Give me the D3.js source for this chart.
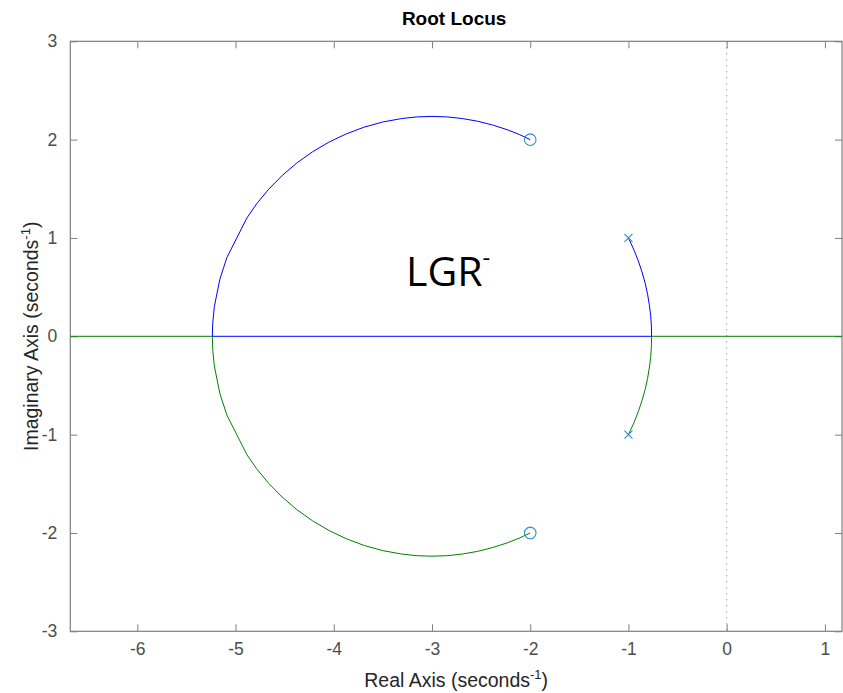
<!DOCTYPE html>
<html>
<head>
<meta charset="utf-8">
<script src="https://cdn.jsdelivr.net/npm/d3@7"></script>
<style>
  html, body { margin: 0; padding: 0; background: #fff; }
  svg { display: block; }
</style>
</head>
<body>
<svg id="chart" width="843" height="693"></svg>
<script>
// Axis limits and ticks
const xLimits = [-6.682, 1.174];
const yLimits = [-3, 3];
const xTickValues = [-6, -5, -4, -3, -2, -1, 0, 1];
const yTickValues = [-3, -2, -1, 0, 1, 2, 3];

// Open-loop poles and zeros
const poles = [[-1, 1], [-1, -1]];
const zeros = [[-2, 2], [-2, -2]];

// Branch 1 (blue): pole -1+j down to the real-axis crossing
const blueRightArc = [
  [-1.000, 1.000], [-0.942, 0.874], [-0.899, 0.765], [-0.862, 0.654],
  [-0.830, 0.541], [-0.805, 0.427], [-0.786, 0.311], [-0.774, 0.214],
  [-0.767, 0.117], [-0.764, 0.000]
];
// Branch 1 (blue): along the real axis between the two crossings
const blueRealAxis = [[-0.764, 0], [-5.236, 0]];
// Branch 1 (blue): from the left crossing up to the zero -2+2j
const blueLeftArc = [
  [-5.236, 0.000], [-5.232, 0.133], [-5.216, 0.300], [-5.160, 0.579],
  [-5.088, 0.801], [-4.884, 1.204], [-4.786, 1.346], [-4.662, 1.496],
  [-4.525, 1.635], [-4.377, 1.762], [-4.218, 1.875], [-4.050, 1.974],
  [-3.874, 2.058], [-3.691, 2.127], [-3.503, 2.179], [-3.311, 2.214],
  [-3.156, 2.231], [-3.000, 2.236], [-2.844, 2.231], [-2.689, 2.214],
  [-2.535, 2.187], [-2.384, 2.149], [-2.235, 2.101], [-2.108, 2.051],
  [-2.000, 2.000]
];

// Branch 2 (green): pole -1-j up to the real-axis crossing, then out to the right
const greenRightArc = [
  [-1.000, -1.000], [-0.942, -0.874], [-0.899, -0.765], [-0.862, -0.654],
  [-0.830, -0.541], [-0.805, -0.427], [-0.786, -0.311], [-0.774, -0.214],
  [-0.767, -0.117], [-0.764, 0.000]
];
const greenRightReal = [[-0.764, 0], [1.174, 0]];
// Branch 2 (green): in from the left along the real axis, then down to the zero -2-2j
const greenLeftReal = [[-6.682, 0], [-5.236, 0]];
const greenLeftArc = [
  [-5.236, 0.000], [-5.232, -0.133], [-5.216, -0.300], [-5.160, -0.579],
  [-5.088, -0.801], [-4.884, -1.204], [-4.786, -1.346], [-4.662, -1.496],
  [-4.525, -1.635], [-4.377, -1.762], [-4.218, -1.875], [-4.050, -1.974],
  [-3.874, -2.058], [-3.691, -2.127], [-3.503, -2.179], [-3.311, -2.214],
  [-3.156, -2.231], [-3.000, -2.236], [-2.844, -2.231], [-2.689, -2.214],
  [-2.535, -2.187], [-2.384, -2.149], [-2.235, -2.101], [-2.108, -2.051],
  [-2.000, -2.000]
];

const plot = { left: 70.3, right: 842, top: 41.3, bottom: 631.3 };
const svg = d3.select("#chart");

const x = d3.scaleLinear().domain(xLimits).range([plot.left, plot.right]);
const y = d3.scaleLinear().domain(yLimits).range([plot.bottom, plot.top]);

svg.append("defs").append("clipPath").attr("id", "plot-clip")
  .append("rect")
  .attr("x", plot.left).attr("y", plot.top)
  .attr("width", plot.right - plot.left).attr("height", plot.bottom - plot.top);

const axisColor = "#7f7f7f";
const tickTextColor = "#4d4d4d";
const font = "'Liberation Sans', Arial, Helvetica, sans-serif";

// Axes with inward ticks on all four sides
function styleAxis(g, hideText) {
  g.select(".domain").remove();
  g.selectAll(".tick line").attr("stroke", axisColor).attr("stroke-width", 1);
  g.selectAll(".tick text")
    .attr("fill", tickTextColor)
    .style("font-family", font)
    .style("font-size", "17.5px");
  if (hideText) g.selectAll(".tick text").remove();
}
const fmt = d => d3.format("d")(d).replace("−", "-");

svg.append("g").attr("transform", `translate(0,${plot.bottom})`)
  .call(d3.axisBottom(x).tickValues(xTickValues).tickSize(-7).tickPadding(11).tickFormat(fmt))
  .call(g => styleAxis(g, false));
svg.append("g").attr("transform", `translate(0,${plot.top})`)
  .call(d3.axisTop(x).tickValues(xTickValues).tickSize(-7).tickFormat(fmt))
  .call(g => styleAxis(g, true));
svg.append("g").attr("transform", `translate(${plot.left},0)`)
  .call(d3.axisLeft(y).tickValues(yTickValues).tickSize(-7).tickPadding(13).tickFormat(fmt))
  .call(g => styleAxis(g, false));
svg.append("g").attr("transform", `translate(${plot.right},0)`)
  .call(d3.axisRight(y).tickValues(yTickValues).tickSize(-7).tickFormat(fmt))
  .call(g => styleAxis(g, true));

// Box
svg.append("rect")
  .attr("x", plot.left).attr("y", plot.top)
  .attr("width", plot.right - plot.left).attr("height", plot.bottom - plot.top)
  .attr("fill", "none").attr("stroke", axisColor).attr("stroke-width", 1.2);

const layer = svg.append("g").attr("clip-path", "url(#plot-clip)");

// Imaginary axis, dotted
layer.append("line")
  .attr("x1", x(0)).attr("x2", x(0))
  .attr("y1", y(yLimits[1])).attr("y2", y(yLimits[0]))
  .attr("stroke", "#6f6f6f").attr("stroke-width", 1)
  .attr("stroke-dasharray", "1,5");

const line = d3.line().x(d => x(d[0])).y(d => y(d[1]));
const branches = [
  { pts: greenLeftReal, color: "#008000" },
  { pts: greenLeftArc, color: "#008000" },
  { pts: greenRightArc, color: "#008000" },
  { pts: greenRightReal, color: "#008000" },
  { pts: blueRealAxis, color: "#0000ff" },
  { pts: blueLeftArc, color: "#0000ff" },
  { pts: blueRightArc, color: "#0000ff" }
];
layer.selectAll("path.branch").data(branches).join("path")
  .attr("class", "branch")
  .attr("d", d => line(d.pts))
  .attr("fill", "none")
  .attr("stroke", d => d.color)
  .attr("stroke-width", 1);

const markerColor = "#2a8ad6";
// Zeros as circles
layer.selectAll("circle.zero").data(zeros).join("circle")
  .attr("class", "zero")
  .attr("cx", d => x(d[0])).attr("cy", d => y(d[1])).attr("r", 5.8)
  .attr("fill", "none").attr("stroke", markerColor).attr("stroke-width", 1.1);
// Poles as crosses
const s = 4;
layer.selectAll("path.pole").data(poles).join("path")
  .attr("class", "pole")
  .attr("d", d => {
    const cx = x(d[0]), cy = y(d[1]);
    return `M${cx - s},${cy - s}L${cx + s},${cy + s}M${cx - s},${cy + s}L${cx + s},${cy - s}`;
  })
  .attr("fill", "none").attr("stroke", markerColor).attr("stroke-width", 1.1);

// Title and axis labels
svg.append("text")
  .attr("x", (plot.left + plot.right) / 2 - 2).attr("y", 25)
  .attr("text-anchor", "middle")
  .style("font-family", font).style("font-size", "19px").style("font-weight", "bold")
  .attr("fill", "#000")
  .text("Root Locus");

const xl = svg.append("text")
  .attr("x", (plot.left + plot.right) / 2).attr("y", 687)
  .attr("text-anchor", "middle")
  .style("font-family", font).style("font-size", "19.5px")
  .attr("fill", "#262626");
xl.append("tspan").text("Real Axis (seconds");
xl.append("tspan").attr("dy", -8).style("font-size", "13px").text("-1");
xl.append("tspan").attr("dy", 8).text(")");

const yl = svg.append("text")
  .attr("transform", `translate(38,${(plot.top + plot.bottom) / 2}) rotate(-90)`)
  .attr("text-anchor", "middle")
  .style("font-family", font).style("font-size", "19.5px")
  .attr("fill", "#262626");
yl.append("tspan").text("Imaginary Axis (seconds");
yl.append("tspan").attr("dy", -8).style("font-size", "13px").text("-1");
yl.append("tspan").attr("dy", 8).text(")");

// Annotation
const ann = svg.append("text")
  .attr("x", 406).attr("y", 286)
  .style("font-family", "'Open Sans', Lato, sans-serif").style("font-size", "41px")
  .attr("fill", "#000");
ann.append("tspan").text("LGR");
ann.append("tspan").attr("dy", -20).style("font-size", "24px").text("-");
</script>
</body>
</html>
